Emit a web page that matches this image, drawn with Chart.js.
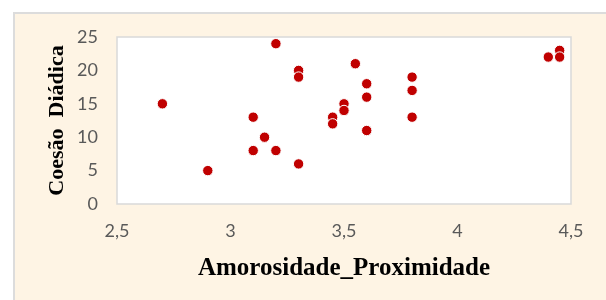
<!DOCTYPE html>
<html>
<head>
<meta charset="utf-8">
<script src="https://cdn.jsdelivr.net/npm/chart.js@4"></script>
<style>
  html, body { margin: 0; padding: 0; background: #fff; }
  #wrap { position: relative; width: 606px; height: 300px; overflow: hidden; }
  #panel { position: absolute; left: 13px; top: 12px; width: 620px; height: 320px;
           background: #fef4e4; border: 2px solid #dcdcdc; box-sizing: border-box; }
  canvas { position: absolute; left: 0; top: 0; }
</style>
</head>
<body>
<div id="wrap">
  <div id="panel"></div>
  <canvas id="scatter" width="606" height="300"></canvas>
</div>
<script>
// Amorosidade_Proximidade vs Coesão Diádica
const amorosidade = [2.7, 2.9, 3.1, 3.1, 3.15, 3.2, 3.2, 3.3, 3.3, 3.3, 3.45, 3.45,
                     3.5, 3.5, 3.55, 3.6, 3.6, 3.6, 3.8, 3.8, 3.8, 4.4, 4.45, 4.45];
const coesao = [15, 5, 13, 8, 10, 24, 8, 20, 19, 6, 13, 12,
                15, 14, 21, 18, 16, 11, 19, 17, 13, 22, 23, 22];
const xTicks = [2.5, 3, 3.5, 4, 4.5];
const yTicks = [0, 5, 10, 15, 20, 25];

const points = amorosidade.map((x, i) => ({ x: x, y: coesao[i] }));

const plotBox = {
    id: 'plotBox',
    beforeDatasetsDraw(chart) {
        const a = chart.chartArea;
        const ctx = chart.ctx;
        ctx.save();
        ctx.fillStyle = '#ffffff';
        ctx.fillRect(a.left, a.top, a.right - a.left, a.bottom - a.top);
        ctx.strokeStyle = '#d9d9d9';
        ctx.lineWidth = 1.5;
        ctx.strokeRect(a.left, a.top, a.right - a.left, a.bottom - a.top);
        ctx.restore();
    }
};

const tickFont = { family: 'Lato', size: 18 };

new Chart(document.getElementById('scatter'), {
    type: 'scatter',
    data: {
        datasets: [{
            data: points,
            backgroundColor: '#c00000',
            borderColor: '#ffffff',
            borderWidth: 1,
            pointRadius: 5.2,
            pointHoverRadius: 5.2
        }]
    },
    options: {
        responsive: false,
        animation: false,
        layout: { padding: { top: 37, right: 35, left: 0, bottom: 0 } },
        plugins: { legend: { display: false }, tooltip: { enabled: false } },
        scales: {
            x: {
                type: 'linear',
                min: 2.5, max: 4.5,
                afterBuildTicks: s => { s.ticks = xTicks.map(v => ({ value: v })); },
                afterFit: s => { s.height = 96; },
                grid: { display: false },
                border: { display: false },
                ticks: {
                    padding: 8,
                    color: '#595959',
                    font: tickFont,
                    maxRotation: 0,
                    callback: v => String(v).replace('.', ',')
                },
                title: {
                    display: true,
                    text: 'Amorosidade_Proximidade',
                    color: '#000',
                    font: { family: 'Liberation Serif', size: 25, weight: 'bold' },
                    padding: { top: 0, bottom: 16 }
                }
            },
            y: {
                min: 0, max: 25,
                afterBuildTicks: s => { s.ticks = yTicks.map(v => ({ value: v })); },
                afterFit: s => { s.width = 117; },
                grid: { display: false },
                border: { display: false },
                ticks: { padding: 11, color: '#595959', font: tickFont },
                title: {
                    display: true,
                    text: 'Coesão  Diádica',
                    color: '#000',
                    font: { family: 'Liberation Serif', size: 22, weight: 'bold' },
                    padding: { top: 44, bottom: 0 }
                }
            }
        }
    },
    plugins: [plotBox]
});
</script>
</body>
</html>
